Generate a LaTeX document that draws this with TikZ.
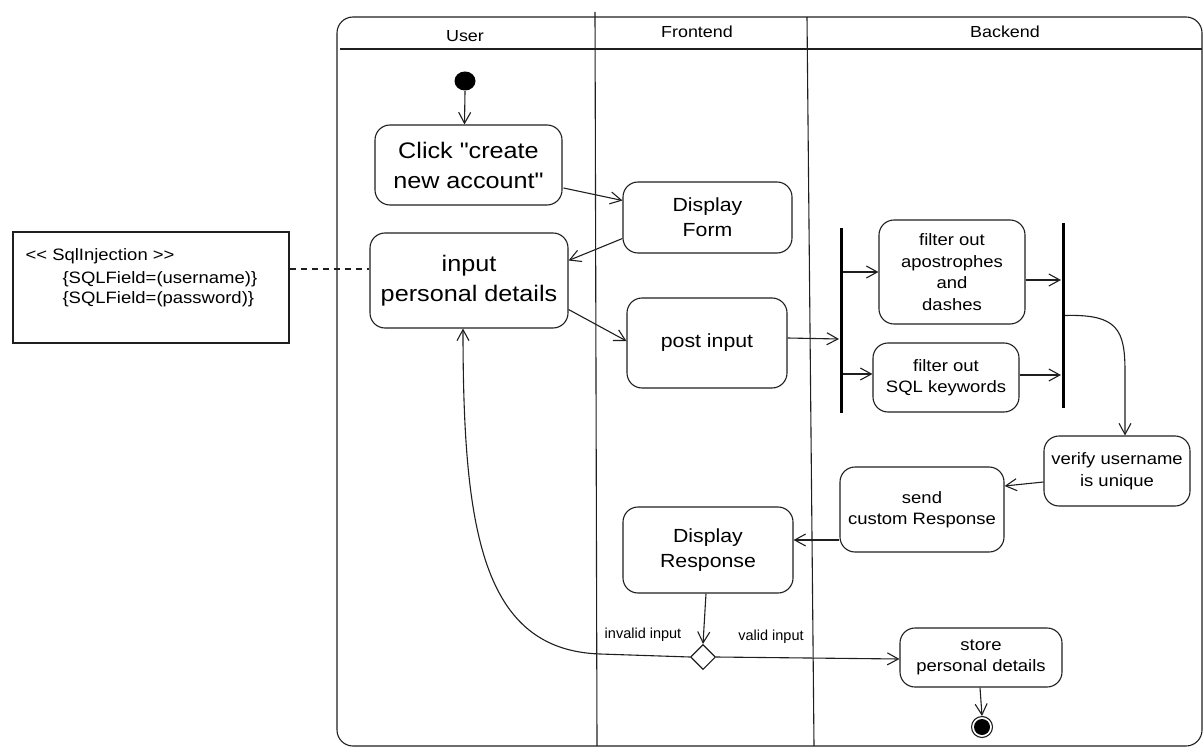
\documentclass[tikz,border=0pt]{standalone}
\usepackage{fontspec}
\setmainfont{Liberation Sans}
\newfontfamily\hand[FakeStretch=1.12]{Liberation Sans}
\usetikzlibrary{arrows.meta,calc,shapes.geometric}

\begin{document}
\begin{tikzpicture}[x=1pt,y=-1pt,line width=1.1pt,
  ink/.style={draw=black!88},
  box/.style={ink, rounded corners=15pt, align=center, inner sep=1pt},
  bigtxt/.style={font=\hand\fontsize{22.5}{30}\selectfont},
  midtxt/.style={font=\hand\fontsize{19}{25}\selectfont},
  smalltxt/.style={font=\hand\fontsize{16.5}{21.5}\selectfont},
  headtxt/.style={font=\hand\fontsize{16}{20}\selectfont},
  notetxt/.style={font=\hand\fontsize{16.5}{20}\selectfont, anchor=west, inner sep=0},
  lbl/.style={font=\fontsize{14.5}{17}\selectfont, inner sep=0},
  bar/.style={fill=black, minimum width=3pt, inner sep=0, minimum height=185pt},
  arr/.style={ink, -{Straight Barb[length=11pt,width=12pt]}}
]
\useasboundingbox (0,0) rectangle (1204,751);

% swimlane frame, header row and lane dividers
\draw[ink, rounded corners=16pt] (337,17) rectangle (1202,746);
\draw[ink] (340,49) -- (1202,49);
\draw[ink] (595,12) -- (597,746);
\draw[ink] (807,17) -- (814,746);
\node[headtxt] (hUser) at (465,36) {User};
\node[headtxt] (hFront) at (697,32) {Frontend};
\node[headtxt] (hBack) at (1005,32) {Backend};

% stereotype note
\node[ink, draw, minimum width=276pt, minimum height=111pt, inner sep=0] (note) at (151,287.5) {};
\node[notetxt] (n1) at (25,256) {<\kern0pt< SqlInjection >\kern0pt>};
\node[notetxt] (n2) at (62,279) {\{SQLField=(username)\}};
\node[notetxt] (n3) at (62,299) {\{SQLField=(password)\}};

% activities
\node[ellipse, fill=black, minimum width=21pt, minimum height=19pt, inner sep=0] (start) at (465,81) {};
\node[box, bigtxt, minimum width=187pt, minimum height=80pt] (click) at (468.5,165) {Click "create\\ new account"};
\node[box, bigtxt, minimum width=198pt, minimum height=95pt] (input) at (469,280.5) {input\\personal details};
\node[box, midtxt, minimum width=169pt, minimum height=71pt] (form) at (707.5,217.5) {Display\\Form};
\node[box, midtxt, minimum width=160pt, minimum height=90pt] (post) at (707,343) {post input};
\node[bar] (fork) at (841,320.5) {};
\node[box, smalltxt, minimum width=146pt, minimum height=104pt] (apos) at (952,272) {filter out\\apostrophes\\and\\dashes};
\node[box, smalltxt, minimum width=146pt, minimum height=69pt] (sqlk) at (946,377.5) {filter out\\SQL keywords};
\node[bar] (join) at (1063,315.5) {};
\node[box, smalltxt, minimum width=146pt, minimum height=70pt] (verify) at (1117,471) {verify username\\is unique};
\node[box, smalltxt, minimum width=164pt, minimum height=85pt] (send) at (922,509.5) {send\\custom Response};
\node[box, midtxt, minimum width=170pt, minimum height=86pt] (dresp) at (708,550) {Display\\Response};
\node[ink, draw, diamond, minimum width=25pt, minimum height=25pt, inner sep=0] (choice) at (703,657) {};
\node[box, smalltxt, minimum width=162pt, minimum height=59pt] (store) at (981,657.5) {store\\personal details};
\node[ink, draw, circle, minimum size=21pt, inner sep=0] (stop) at (982,727) {};
\fill (stop.center) circle (8pt);

% flow
\draw[arr] (start.south) -- ($(click.north)+(-4,0)$);
\draw[arr] ($(click.east)+(1,23)$) -- ($(form.west)+(0,-17)$);
\draw[arr] ($(form.west)+(0,21)$) -- ($(input.east)+(0,-20)$);
\draw[arr] ($(input.east)+(0,29)$) -- ($(post.west)+(0,-2)$);
\draw[arr] ($(post.east)+(0,-5)$) -- ($(fork.west)+(0,18.5)$);
\draw[arr] ($(fork.east)+(0,-48.5)$) -- (apos.west);
\draw[arr] ($(fork.east)+(0,53.5)$) -- ($(sqlk.west)+(0,-3.5)$);
\draw[arr] ($(apos.east)+(0,8)$) -- ($(join.west)+(0,-35.5)$);
\draw[arr] ($(sqlk.east)+(0,-2.5)$) -- ($(join.west)+(0,59.5)$);
\draw[arr] (join.east) .. controls (1118,314) and (1125,330) .. (1125,372) -- ($(verify.north)+(8,0)$);
\draw[arr] ($(verify.west)+(0,11)$) -- ($(send.east)+(0,-23.5)$);
\draw[arr] ($(send.west)+(0,30.5)$) -- ($(dresp.east)+(0,-10)$);
\draw[arr] ($(dresp.south)+(-2,0)$) -- (choice.north);
\draw[arr] (choice.east) -- ($(store.west)+(0,1.5)$);
\draw[arr] ($(store.south)+(-1,0)$) -- (stop.north);
\draw[arr] (choice.west) -- (600,654) .. controls (482,650) and (463,530) .. ($(input.south)+(-6,0)$);
\draw[ink, dashed, dash pattern=on 6pt off 5pt] ($(note.east)+(0,-18.5)$) -- ($(input.west)+(0,-11.5)$);

% guard labels
\node[lbl] (lInvalid) at (643,635) {invalid input};
\node[lbl] (lValid) at (771,637) {valid input};
\end{tikzpicture}
\end{document}
